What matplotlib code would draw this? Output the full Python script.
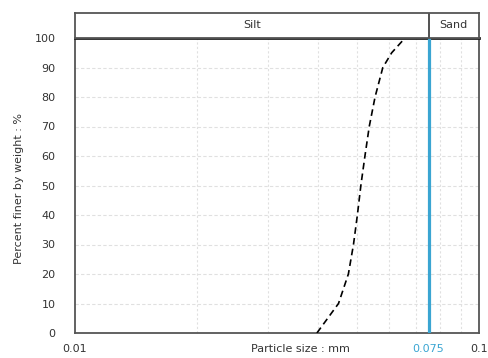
import matplotlib
matplotlib.use("Agg")
import matplotlib.pyplot as plt
from matplotlib.ticker import FixedLocator
import numpy as np

plt.rcParams['font.family'] = ['DejaVu Sans']

size_mm = [0.0397, 0.0449, 0.0475, 0.0489, 0.0500, 0.0510, 0.0522, 0.0535, 0.0553, 0.0578, 0.0608, 0.0656]
percent = [0, 10, 20, 30, 40, 50, 60, 70, 80, 90, 95, 100]
yticks = [0, 10, 20, 30, 40, 50, 60, 70, 80, 90, 100]
minor_x = [0.02, 0.03, 0.04, 0.05, 0.06, 0.07, 0.08, 0.09]
boundary = 0.075
x_min, x_max = 0.01, 0.1
zone_labels = ["Silt", "Sand"]

fig = plt.figure(figsize=(4.88, 3.58), dpi=100)
L, R = 75/488, 479/488
B, T = (358-333)/358, (358-38)/358
HT = (358-13)/358
ax = fig.add_axes([L, B, R-L, T-B])
hx = fig.add_axes([L, T, R-L, HT-T], sharex=ax)

FS = 8
txt_c = '#333333'
grid_c = '#e0e0e0'
ax.set_xscale('log')
ax.set_xlim(x_min, x_max)
ax.set_ylim(0, 100)
for v in yticks[1:-1]:
    ax.axhline(v, color=grid_c, lw=0.8, ls=(0, (3, 2)), zorder=0)
for v in minor_x:
    ax.axvline(v, color=grid_c, lw=0.8, ls=(0, (2, 2)), zorder=0)

ax.plot(size_mm, percent, color='black', lw=1.2, ls=(0, (4, 2.5)), zorder=3)
ax.axvline(boundary, color='#3aa5d2', lw=2.3, zorder=4)

ax.set_yticks(yticks)
ax.set_yticklabels([str(v) for v in yticks], fontsize=FS, color=txt_c)
ax.xaxis.set_minor_locator(FixedLocator([]))
ax.set_xticks([x_min, boundary, x_max])
ax.set_xticklabels(["0.01", "0.075", "0.1"], fontsize=FS)
for lbl in ax.get_xticklabels():
    lbl.set_color('#3aa5d2' if lbl.get_text() == "0.075" else txt_c)
ax.tick_params(axis='y', length=0, pad=14)
ax.tick_params(axis='x', length=0, pad=8)
fig.text(300/488, (358-349)/358, "Particle size : mm", fontsize=FS, color=txt_c,
         ha='center', va='center')
fig.text(19/488, (358-188)/358, "Percent finer by weight : %", fontsize=FS, color=txt_c,
         ha='center', va='center', rotation=90)
for s in ax.spines.values():
    s.set_color('#555555')
    s.set_linewidth(1.3)
ax.spines['top'].set_color('#222222')
ax.spines['top'].set_linewidth(2.0)

hx.set_ylim(0, 1)
hx.tick_params(axis='both', length=0, labelbottom=False, labelleft=False)
for s in hx.spines.values():
    s.set_color('#555555')
    s.set_linewidth(1.3)
hx.axvline(boundary, color='#333333', lw=1.2)
hx.text(np.sqrt(x_min*boundary), 0.5, zone_labels[0], ha='center', va='center', fontsize=FS, color=txt_c)
hx.text(np.sqrt(boundary*x_max), 0.5, zone_labels[1], ha='center', va='center', fontsize=FS, color=txt_c)

fig.savefig("out.png", dpi=100)
